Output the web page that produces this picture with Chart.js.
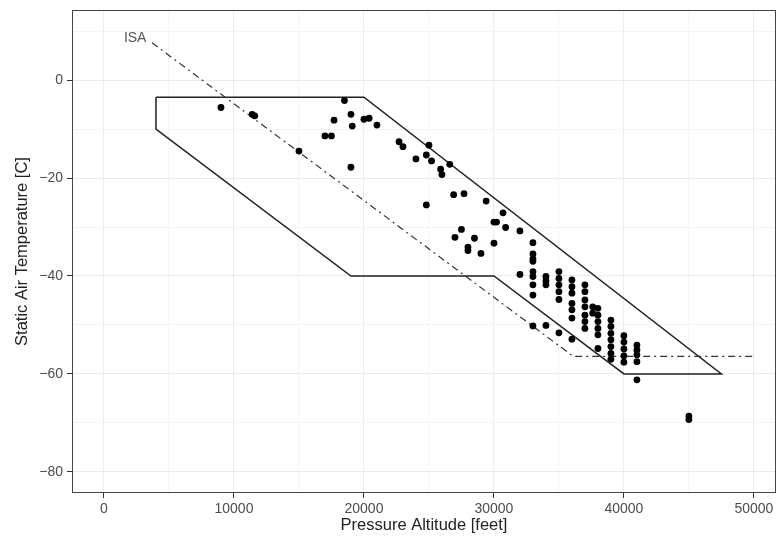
<!DOCTYPE html>
<html>
<head>
<meta charset="utf-8">
<script src="https://cdn.jsdelivr.net/npm/chart.js@4.4.0/dist/chart.umd.min.js"></script>
<style>
  body { margin: 0; background: #fff; }
  #wrap { width: 776px; height: 541px; }
</style>
</head>
<body>
<div id="wrap"><canvas id="satChart" width="776" height="541"></canvas></div>
<script>
// measured flights
const altitude = [
    9000, 11400, 11600, 15000, 17000, 17500, 17700, 18500, 19000, 19100,
    19000, 20000, 20400, 21000, 22700, 23000, 24000, 24800, 25000, 25200,
    24800, 25900, 26000, 26600, 26900, 27700, 27000, 27500, 28000, 28000,
    28500, 29000, 29400, 30000, 30200, 30000, 30700, 30900, 32000, 32000,
    33000, 33000, 33000, 33000, 33000, 33000, 33000, 33000, 33000,
    34000, 34000, 34000, 34000,
    35000, 35000, 35000, 35000, 35000, 35000,
    36000, 36000, 36000, 36000, 36000, 36000, 36000,
    37000, 37000, 37000, 37000, 37000, 37000, 37000, 37600, 37600,
    38000, 38000, 38000, 38000, 38000, 38000,
    39000, 39000, 39000, 39000, 39000, 39000, 39000,
    40000, 40000, 40000, 40000, 40000,
    41000, 41000, 41000, 41000, 41000,
    45000, 45000
];
const temperature = [
    -5.6, -7.0, -7.3, -14.5, -11.4, -11.4, -8.2, -4.2, -7.0, -9.4,
    -17.8, -8.0, -7.8, -9.2, -12.6, -13.6, -16.1, -15.3, -13.3, -16.5,
    -25.5, -18.2, -19.3, -17.2, -23.4, -23.2, -32.1, -30.5, -34.1, -34.8,
    -32.3, -35.4, -24.7, -29.0, -29.0, -33.3, -27.1, -30.1, -30.8, -39.7,
    -33.2, -35.5, -36.5, -37.0, -39.1, -40.1, -41.8, -43.9, -50.2,
    -40.1, -41.0, -41.8, -50.1,
    -39.1, -40.5, -41.8, -43.2, -44.8, -51.6,
    -40.8, -42.2, -43.5, -45.6, -46.9, -48.6, -52.9,
    -41.8, -43.2, -44.9, -46.3, -48.0, -49.3, -50.7, -46.3, -47.6,
    -46.6, -48.0, -49.3, -50.7, -52.0, -54.8,
    -49.0, -50.3, -51.7, -53.0, -54.4, -55.8, -57.0,
    -52.2, -53.5, -54.9, -56.3, -57.6,
    -54.1, -55.1, -56.1, -57.5, -61.2,
    -68.6, -69.3
];

// operating envelope (closed outline)
const envelopeAlt = [4000, 20000, 47500, 40000, 30000, 19000, 4000, 4000];
const envelopeTemp = [-3.5, -3.5, -60, -60, -40, -40, -10, -3.5];

// ISA line
const isaAlt = [3700, 36100, 50000];
const isaTemp = [7.6, -56.4, -56.4];
const isaLabel = "ISA";
const isaLabelAlt = 2400;
const isaLabelTemp = 8.6;

// axes
const xMajor = [0, 10000, 20000, 30000, 40000, 50000];
const xMinor = [5000, 15000, 25000, 35000, 45000];
const yMajor = [0, -20, -40, -60, -80];
const yMinor = [10, -10, -30, -50, -70];
const xTitle = "Pressure Altitude [feet]";
const yTitle = "Static Air Temperature [C]";

const toXY = (xs, ys) => xs.map((x, i) => ({ x: x, y: ys[i] }));

const tickFont = { family: "'Liberation Sans', Arial, sans-serif", size: 14 };
const titleFont = { family: "'Liberation Sans', Arial, sans-serif", size: 16.5 };

function setTicks(majors, minors) {
    return function (scale) {
        const all = majors.map(v => ({ value: v, major: true }))
            .concat(minors.map(v => ({ value: v, major: false })));
        all.sort((a, b) => a.value - b.value);
        scale.ticks = all;
    };
}

const isMajor = (list, v) => list.indexOf(v) !== -1;

// panel border and ISA text
const panelPlugin = {
    id: "panel",
    afterDatasetsDraw(chart) {
        const ctx = chart.ctx;
        const a = chart.chartArea;
        ctx.save();
        ctx.strokeStyle = "#444";
        ctx.lineWidth = 1;
        ctx.strokeRect(a.left + 0.5, a.top + 0.5, a.right - a.left - 1, a.bottom - a.top - 1);
        ctx.fillStyle = "#555";
        ctx.font = "14px 'Liberation Sans', Arial, sans-serif";
        ctx.textAlign = "center";
        ctx.textBaseline = "middle";
        ctx.fillText(isaLabel, chart.scales.x.getPixelForValue(isaLabelAlt), chart.scales.y.getPixelForValue(isaLabelTemp));
        ctx.restore();
    }
};

const ctx = document.getElementById("satChart").getContext("2d");
const satChart = new Chart(ctx, {
    type: "scatter",
    data: {
        datasets: [{
            label: "flights",
            data: toXY(altitude, temperature),
            pointRadius: 3.4,
            pointBackgroundColor: "#000",
            pointBorderWidth: 0,
            showLine: false
        }, {
            label: "ISA",
            data: toXY(isaAlt, isaTemp),
            showLine: true,
            borderColor: "#333",
            borderWidth: 1.2,
            borderDash: [7, 4, 2, 4],
            pointRadius: 0,
            fill: false
        }, {
            label: "envelope",
            data: toXY(envelopeAlt, envelopeTemp),
            showLine: true,
            borderColor: "#222",
            borderWidth: 1.5,
            pointRadius: 0,
            fill: false,
            tension: 0
        }]
    },
    options: {
        responsive: false,
        animation: false,
        events: [],
        layout: { autoPadding: false, padding: { top: 10, right: 0, bottom: 0, left: 0 } },
        plugins: { legend: { display: false }, tooltip: { enabled: false } },
        scales: {
            x: {
                type: "linear",
                min: -2460,
                max: 51700,
                afterBuildTicks: setTicks(xMajor, xMinor),
                afterFit: s => { s.height = 48; s.paddingLeft = 0; s.paddingRight = 0; },
                border: { display: false },
                grid: {
                    color: c => isMajor(xMajor, c.tick.value) ? "#EBEBEB" : "#F4F4F4",
                    tickColor: c => isMajor(xMajor, c.tick.value) ? "#333" : "rgba(0,0,0,0)",
                    tickLength: 5,
                    lineWidth: 1
                },
                ticks: {
                    autoSkip: false,
                    maxRotation: 0,
                    padding: 3,
                    color: "#4D4D4D",
                    font: tickFont,
                    callback: v => isMajor(xMajor, v) ? String(v) : ""
                },
                title: {
                    display: true,
                    text: xTitle,
                    color: "#222",
                    font: titleFont,
                    padding: { top: 0, bottom: 6 }
                }
            },
            y: {
                type: "linear",
                min: -84.3,
                max: 14.3,
                afterBuildTicks: setTicks(yMajor, yMinor),
                afterFit: s => { s.width = 72; s.paddingTop = 0; s.paddingBottom = 0; },
                border: { display: false },
                grid: {
                    color: c => isMajor(yMajor, c.tick.value) ? "#EBEBEB" : "#F4F4F4",
                    tickColor: c => isMajor(yMajor, c.tick.value) ? "#333" : "rgba(0,0,0,0)",
                    tickLength: 5,
                    lineWidth: 1
                },
                ticks: {
                    autoSkip: false,
                    padding: 4,
                    color: "#4D4D4D",
                    font: tickFont,
                    callback: v => isMajor(yMajor, v) ? (v < 0 ? "\u2212" + Math.abs(v) : String(v)) : ""
                },
                title: {
                    display: true,
                    text: yTitle,
                    color: "#222",
                    font: titleFont,
                    padding: { top: 13, bottom: 0 }
                }
            }
        }
    },
    plugins: [panelPlugin]
});
</script>
</body>
</html>
